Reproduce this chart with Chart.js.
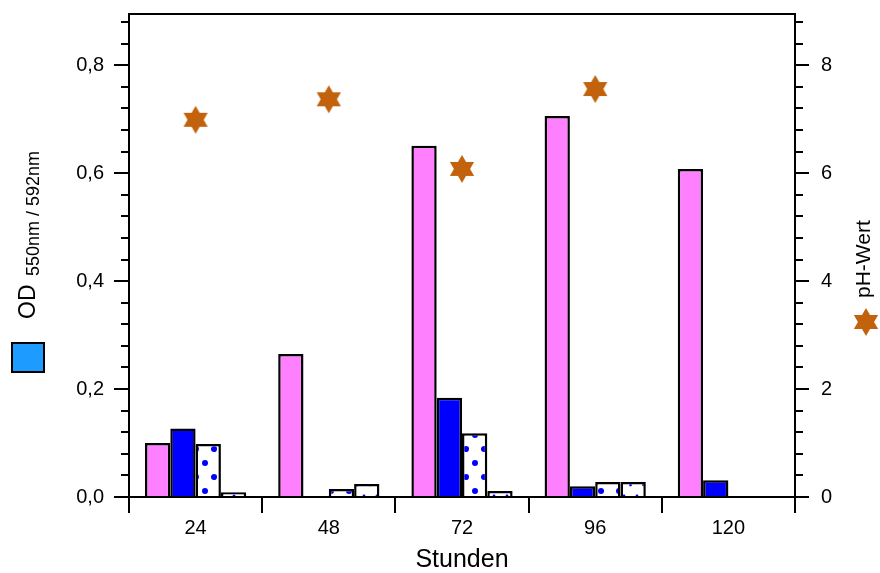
<!DOCTYPE html>
<html><head><meta charset="utf-8">
<script src="https://cdn.jsdelivr.net/npm/chart.js@4/dist/chart.umd.min.js"></script>
<style>html,body{margin:0;padding:0;background:#fff;}</style>
</head><body>
<canvas id="c" width="880" height="573"></canvas>
<script>
const categories = ['24', '48', '72', '96', '120'];
const odPink = [0.100, 0.265, 0.651, 0.706, 0.608];
const odBlue = [0.127, null, 0.184, 0.020, 0.031];
const odBigDots = [0.098, 0.015, 0.118, 0.028, null];
const odSmallDots = [0.009, 0.024, 0.011, 0.028, null];
const phValues = [6.99, 7.37, 6.08, 7.56, null];
const leftTicks = [0, 0.2, 0.4, 0.6, 0.8];
const rightTicks = [0, 2, 4, 6, 8];

const FONT = '"Liberation Sans", Arial, sans-serif';
const STAR_COLOR = '#C2620C';

const canvas = document.getElementById('c');
const ctx0 = canvas.getContext('2d');

function makePattern(w, h, dots, r) {
  const c = document.createElement('canvas');
  c.width = w; c.height = h;
  const g = c.getContext('2d');
  g.fillStyle = '#fff'; g.fillRect(0, 0, w, h);
  g.fillStyle = '#0000FF';
  for (const [x, y] of dots) {
    for (const dx of [-w, 0, w]) for (const dy of [-h, 0, h]) {
      g.beginPath(); g.arc(x + dx, y + dy, r, 0, Math.PI * 2); g.fill();
    }
  }
  return ctx0.createPattern(c, 'repeat');
}
const bigDots = makePattern(18, 28, [[16, 1], [7, 15]], 3);
const smallDots = makePattern(13, 22, [[0, 12], [6.5, 1]], 1.4);

function makeStar() {
  const c = document.createElement('canvas');
  c.width = 26; c.height = 30;
  const g = c.getContext('2d');
  g.fillStyle = STAR_COLOR;
  const cx = 13, cy = 15, R = 14;
  for (const base of [-90, 90]) {
    g.beginPath();
    for (let k = 0; k < 3; k++) {
      const a = (base + k * 120) * Math.PI / 180;
      const x = cx + R * Math.cos(a), y = cy + R * Math.sin(a);
      if (k === 0) g.moveTo(x, y); else g.lineTo(x, y);
    }
    g.closePath(); g.fill();
  }
  return c;
}
const starImg = makeStar();

const decor = {
  id: 'decor',
  afterDraw(chart) {
    const { ctx, chartArea: a, scales } = chart;
    const y = scales.y, y2 = scales.y2;
    ctx.save();
    ctx.strokeStyle = '#000';
    ctx.lineWidth = 2;
    ctx.lineCap = 'butt';
    ctx.strokeRect(a.left, a.top, a.right - a.left, a.bottom - a.top);
    for (let i = 0; i <= 22; i++) {
      const py = Math.round(y.getPixelForValue(i * 0.04));
      const len = (i % 5 === 0) ? 15 : 8;
      ctx.beginPath(); ctx.moveTo(a.left - len, py); ctx.lineTo(a.left, py); ctx.stroke();
    }
    for (let i = 0; i <= 22; i++) {
      const py = Math.round(y2.getPixelForValue(i * 0.4));
      const len = (i % 5 === 0) ? 14 : 8;
      ctx.beginPath(); ctx.moveTo(a.right, py); ctx.lineTo(a.right + len, py); ctx.stroke();
    }
    const n = categories.length;
    for (let k = 0; k <= n; k++) {
      const px = Math.round(a.left + k * (a.right - a.left) / n);
      ctx.beginPath(); ctx.moveTo(px, a.bottom); ctx.lineTo(px, a.bottom + 16); ctx.stroke();
    }
    ctx.fillStyle = '#000';
    ctx.font = '25px ' + FONT;
    ctx.textAlign = 'center';
    ctx.textBaseline = 'alphabetic';
    ctx.fillText('Stunden', (a.left + a.right) / 2, 567);
    ctx.fillStyle = '#1E9BFF';
    ctx.fillRect(12, 343, 32, 29);
    ctx.strokeRect(12, 343, 32, 29);
    ctx.save();
    ctx.translate(35, 319);
    ctx.rotate(-Math.PI / 2);
    ctx.fillStyle = '#000';
    ctx.textAlign = 'left';
    ctx.font = '23px ' + FONT;
    ctx.fillText('OD', 0, 0);
    const w = ctx.measureText('OD ').width;
    ctx.font = '18px ' + FONT;
    ctx.fillText('550nm / 592nm', w + 2, 4);
    ctx.restore();
    ctx.save();
    ctx.translate(870, 298);
    ctx.rotate(-Math.PI / 2);
    ctx.fillStyle = '#000';
    ctx.textAlign = 'left';
    ctx.font = '21px ' + FONT;
    ctx.fillText('pH-Wert', 0, 0);
    ctx.restore();
    ctx.drawImage(starImg, 866 - 13, 322 - 15);
    ctx.restore();
  }
};

const barCommon = { borderColor: '#000', borderWidth: 2.5, yAxisID: 'y', order: 1,
  categoryPercentage: 0.76, barPercentage: 1.0 };

function noPad(s) { s.paddingTop = 0; s.paddingBottom = 0; s.paddingLeft = 0; s.paddingRight = 0; }

new Chart(canvas, {
  type: 'bar',
  data: {
    labels: categories,
    datasets: [
      { type: 'line', label: 'pH', data: phValues, yAxisID: 'y2', showLine: false,
        pointStyle: starImg, pointRadius: 13, order: 0 },
      Object.assign({ label: 'pink', data: odPink, backgroundColor: '#FF80FF' }, barCommon),
      Object.assign({ label: 'blue', data: odBlue, backgroundColor: '#0000FF' }, barCommon),
      Object.assign({ label: 'dots', data: odBigDots, backgroundColor: bigDots }, barCommon),
      Object.assign({ label: 'small dots', data: odSmallDots, backgroundColor: smallDots }, barCommon)
    ]
  },
  options: {
    responsive: false,
    animation: false,
    layout: { padding: { top: 11, left: 0, right: 0, bottom: 0 } },
    plugins: { legend: { display: false }, tooltip: { enabled: false } },
    scales: {
      x: {
        type: 'category',
        grid: { display: false, drawTicks: false },
        border: { display: false },
        ticks: { color: '#000', font: { family: FONT, size: 20 }, padding: 19, maxRotation: 0 },
        afterFit(s) { s.height = 76; noPad(s); }
      },
      y: {
        position: 'left', min: 0, max: 0.895,
        grid: { display: false, drawTicks: false },
        border: { display: false },
        afterBuildTicks(s) { s.ticks = leftTicks.map(v => ({ value: v })); },
        ticks: { color: '#000', font: { family: FONT, size: 20 }, padding: 25,
          callback: v => Number(v).toFixed(1).replace('.', ',') },
        afterFit(s) { s.width = 129; noPad(s); }
      },
      y2: {
        position: 'right', min: 0, max: 8.95,
        grid: { display: false, drawTicks: false },
        border: { display: false },
        afterBuildTicks(s) { s.ticks = rightTicks.map(v => ({ value: v })); },
        ticks: { color: '#000', font: { family: FONT, size: 20 }, padding: 26,
          callback: v => String(v) },
        afterFit(s) { s.width = 85; noPad(s); }
      }
    }
  },
  plugins: [decor]
});
</script>
</body></html>
